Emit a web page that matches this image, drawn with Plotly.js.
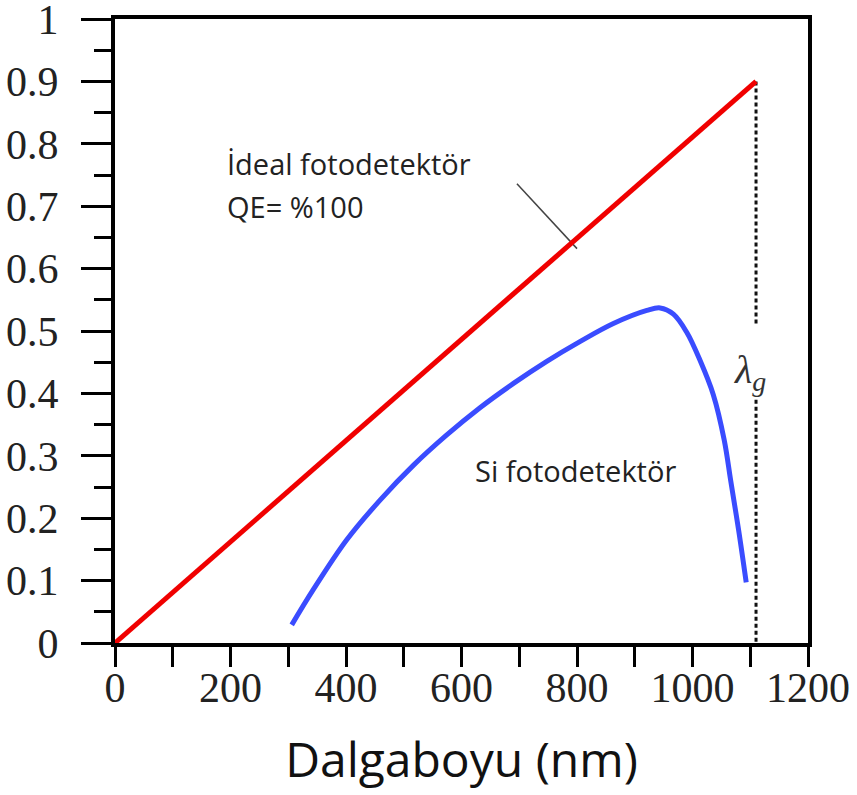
<!DOCTYPE html>
<html>
<head>
<meta charset="utf-8">
<script src="https://cdn.plot.ly/plotly-3.0.1.min.js"></script>
<style>html,body{margin:0;padding:0;background:#fff;}#chart{width:857px;height:795px;}</style>
</head>
<body>
<div id="chart"></div>
<script>
// Ideal photodetector (QE = 100%)
const idealX = [0, 1110];
const idealY = [0, 0.9];

// Si photodetector response
const siX = [306, 343, 401, 459, 517, 574, 632, 690, 747, 805, 863, 921, 944, 967, 990, 1013, 1036, 1055, 1066, 1080, 1093];
const siY = [0.029, 0.085, 0.165, 0.229, 0.285, 0.333, 0.377, 0.416, 0.451, 0.483, 0.512, 0.533, 0.537, 0.527, 0.498, 0.453, 0.398, 0.325, 0.261, 0.18, 0.097];

// Cut-off wavelength marker (dashed, with a gap for the label)
const lambdaGX = [1110, 1110, null, 1110, 1110];
const lambdaGY = [0.9, 0.51, null, 0.39, 0];

// Pointer from label to ideal line
const pointerX = [696, 800];
const pointerY = [0.736, 0.632];

// Axis ticks
const xTickVals = [0, 200, 400, 600, 800, 1000, 1200];
const xTickText = ['0', '200', '400', '600', '800', '1000', '1200'];
const yTickVals = [0, 0.1, 0.2, 0.3, 0.4, 0.5, 0.6, 0.7, 0.8, 0.9, 1];
const yTickText = ['0', '0.1', '0.2', '0.3', '0.4', '0.5', '0.6', '0.7', '0.8', '0.9', '1'];

const traces = [
  {x: lambdaGX, y: lambdaGY, mode: 'lines', line: {color: '#111', width: 3, dash: '4px,3px'}, hoverinfo: 'skip', connectgaps: false},
  {x: pointerX, y: pointerY, mode: 'lines', line: {color: '#444', width: 1.5}, hoverinfo: 'skip'},
  {x: idealX, y: idealY, mode: 'lines', line: {color: '#f00000', width: 5}, name: 'İdeal'},
  {x: siX, y: siY, mode: 'lines', line: {color: '#3a4cff', width: 5, shape: 'spline', smoothing: 1}, name: 'Si'}
];

const layout = {
  width: 857, height: 795,
  margin: {l: 115, r: 49, t: 19, b: 152},
  paper_bgcolor: '#fff', plot_bgcolor: '#fff',
  showlegend: false,
  xaxis: {
    range: [0, 1200], showgrid: false, zeroline: false,
    showline: true, linecolor: '#000', linewidth: 4, mirror: true,
    tickmode: 'array', tickvals: xTickVals, ticktext: xTickText,
    ticks: 'outside', ticklen: 20, tickwidth: 3, tickcolor: '#000',
    minor: {dtick: 100, ticks: 'outside', ticklen: 20, tickwidth: 3, tickcolor: '#000', showgrid: false},
    tickfont: {family: 'Liberation Serif', size: 42, color: '#222'},
    ticklabelstandoff: -15,
    ticklabeloverflow: 'allow',
    title: {text: 'Dalgaboyu (nm)', font: {family: 'Open Sans', size: 48, color: '#111'}, standoff: 34}
  },
  yaxis: {
    range: [0, 1], showgrid: false, zeroline: false,
    showline: true, linecolor: '#000', linewidth: 4, mirror: true,
    tickmode: 'array', tickvals: yTickVals, ticktext: yTickText,
    ticks: 'outside', ticklen: 30, tickwidth: 3, tickcolor: '#000',
    minor: {dtick: 0.05, ticks: 'outside', ticklen: 17, tickwidth: 3, tickcolor: '#000', showgrid: false},
    tickfont: {family: 'Liberation Serif', size: 42, color: '#222'},
    ticklabelstandoff: 14,
    ticklabeloverflow: 'allow'
  },
  annotations: [
    {x: 190, y: 0.768, xref: 'x', yref: 'y', text: 'İdeal fotodetektör', showarrow: false, xanchor: 'left', yanchor: 'middle', font: {family: 'Open Sans', size: 29, color: '#222'}},
    {x: 190, y: 0.700, xref: 'x', yref: 'y', text: 'QE= %100', showarrow: false, xanchor: 'left', yanchor: 'middle', font: {family: 'Open Sans', size: 29, color: '#222'}},
    {x: 798, y: 0.277, xref: 'x', yref: 'y', text: 'Si fotodetektör', showarrow: false, xanchor: 'center', yanchor: 'middle', font: {family: 'Open Sans', size: 29, color: '#222'}},
    {x: 1100, y: 0.434, xref: 'x', yref: 'y', text: '<i>λ<sub>g</sub></i>', showarrow: false, xanchor: 'center', yanchor: 'middle', font: {family: 'Liberation Serif', size: 40, color: '#333'}}
  ]
};

Plotly.newPlot('chart', traces, layout, {displayModeBar: false, staticPlot: true});
</script>
</body>
</html>
